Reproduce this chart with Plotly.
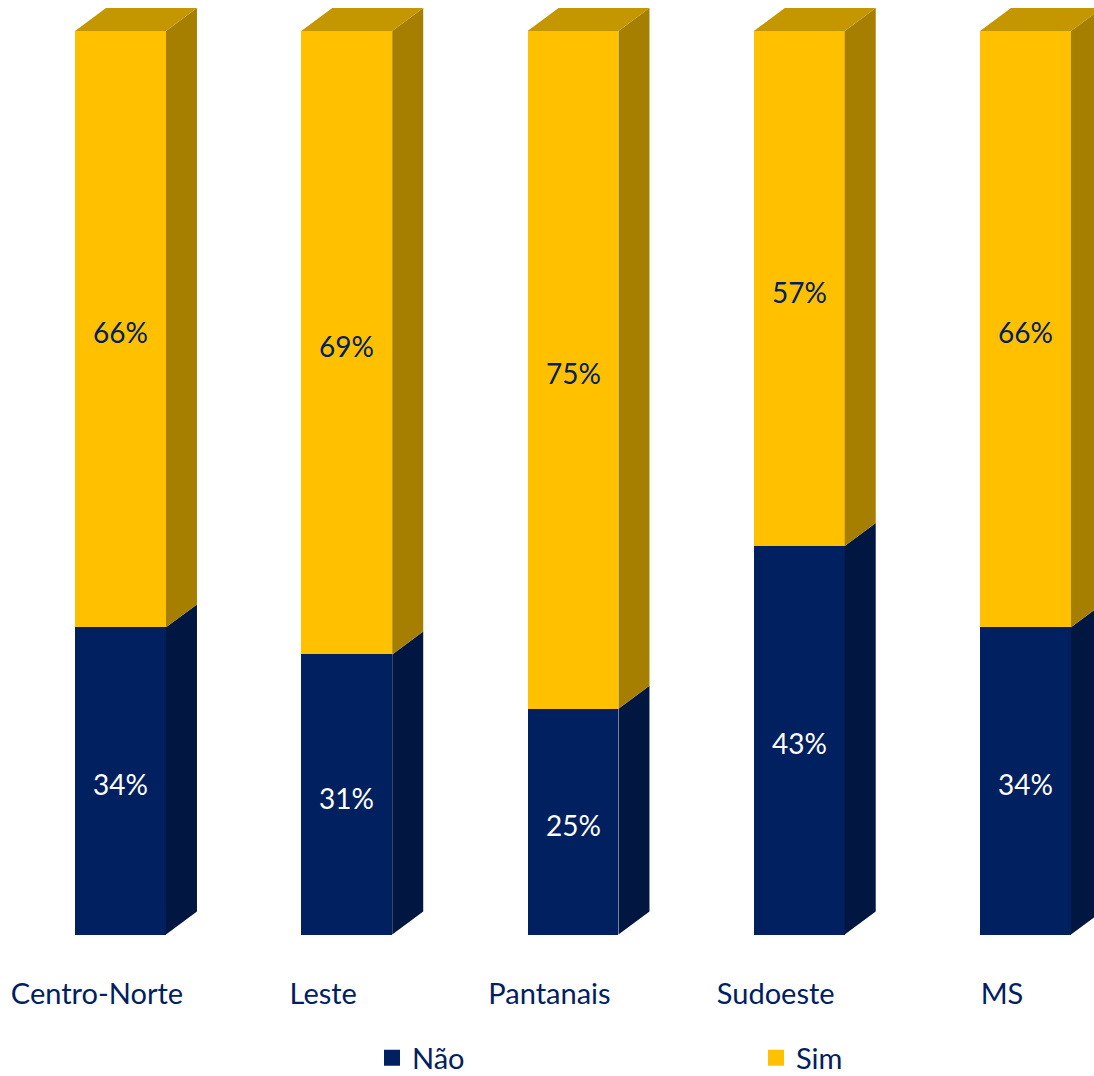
import plotly.graph_objects as go

# Survey shares by region
regions = ["Centro-Norte", "Leste", "Pantanais", "Sudoeste", "MS"]
nao = [34, 31, 25, 43, 34]
sim = [66, 69, 75, 57, 66]

NAVY = "#002060"
NAVY_SIDE = "#011640"
GOLD = "#FFC000"
GOLD_SIDE = "#A67F00"
GOLD_TOP = "#C49700"
FONT = "Lato"
FIG_W, FIG_H = 1094, 1076
PLOT_H = 1033       # height left for the plot once the legends have reserved their room
PX_PER_UNIT = 9.04

positions = list(range(len(regions)))
BAR_W = 0.402   # front face width, x units
DEPTH_X = 0.137 # extrusion of the fake 3D box, x units
DEPTH_Y = 2.54  # extrusion of the fake 3D box, y units


def side_face(low, high):
    """Closed outline of the right-hand faces between two lists of y values."""
    xs, ys = [], []
    for p, a, b in zip(positions, low, high):
        right = p + BAR_W / 2
        xs += [right, right + DEPTH_X, right + DEPTH_X, right, right, None]
        ys += [a, a + DEPTH_Y, b + DEPTH_Y, b, a, None]
    return xs, ys


def top_face(tops):
    xs, ys = [], []
    for p, t in zip(positions, tops):
        left, right = p - BAR_W / 2, p + BAR_W / 2
        xs += [left, left + DEPTH_X, right + DEPTH_X, right, left, None]
        ys += [t, t + DEPTH_Y, t + DEPTH_Y, t, t, None]
    return xs, ys


totals = [a + b for a, b in zip(nao, sim)]
fig = go.Figure()

# Extruded faces behind the front of each column
for (xs, ys), colour in (
    (side_face([0] * len(nao), nao), NAVY_SIDE),
    (side_face(nao, totals), GOLD_SIDE),
    (top_face(totals), GOLD_TOP),
):
    fig.add_trace(go.Scatter(x=xs, y=ys, mode="lines", fill="toself", fillcolor=colour,
                             line=dict(width=0, color=colour), showlegend=False, hoverinfo="skip"))

# Front faces, stacked
fig.add_trace(go.Bar(x=positions, y=nao, width=BAR_W, marker=dict(color=NAVY, line=dict(width=0)),
                     showlegend=False))
fig.add_trace(go.Bar(x=positions, y=sim, width=BAR_W, marker=dict(color=GOLD, line=dict(width=0)),
                     showlegend=False))

# Percentage labels, centred on each segment
annotations = []
for p, a, b in zip(positions, nao, sim):
    annotations.append(dict(x=p, y=a / 2, text=f"{a}%", showarrow=False, yshift=-3,
                            font=dict(color="white", size=28, family=FONT)))
    annotations.append(dict(x=p, y=a + b / 2, text=f"{b}%", showarrow=False, yshift=-3,
                            font=dict(color=NAVY, size=28, family=FONT)))

# One legend per series so the two keys can sit far apart
for name, colour, legend_id in (("Não", NAVY, "legend"), ("Sim", GOLD, "legend2")):
    fig.add_trace(go.Scatter(x=[None], y=[None], mode="markers", name=name, legend=legend_id,
                             marker=dict(symbol="square", size=18, color=colour)))


def legend_box(left_px):
    return dict(x=left_px / FIG_W, y=(FIG_H - 1058) / FIG_H, xref="container", yref="container",
                xanchor="left", yanchor="middle", orientation="h", itemsizing="trace",
                font=dict(size=29, color=NAVY, family=FONT), bgcolor="rgba(0,0,0,0)")


y_top = 103.43
y_bottom = y_top - PLOT_H / PX_PER_UNIT

fig.update_layout(
    width=FIG_W, height=FIG_H,
    margin=dict(l=0, r=0, t=0, b=0),
    barmode="stack", bargap=0,
    paper_bgcolor="white", plot_bgcolor="white",
    font=dict(family=FONT, size=29, color=NAVY),
    showlegend=True,
    legend=legend_box(372),
    legend2=legend_box(756),
    annotations=annotations,
    xaxis=dict(range=[-0.5326, 4.3028], tickmode="array",
               tickvals=[p - 0.104 for p in positions], ticktext=regions,
               anchor="free", position=(PLOT_H - 974) / PLOT_H,
               showgrid=False, zeroline=False, showline=False, ticks="", fixedrange=True),
    yaxis=dict(range=[y_bottom, y_top], visible=False, showgrid=False, zeroline=False, fixedrange=True),
)

fig.write_html("out.html", config=dict(displayModeBar=False))
